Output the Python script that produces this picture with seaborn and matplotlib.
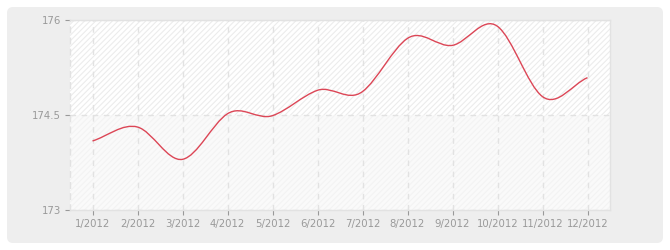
import numpy as np
import matplotlib
matplotlib.use("Agg")
import matplotlib.pyplot as plt
from matplotlib.path import Path
from matplotlib.patches import PathPatch, FancyBboxPatch
import seaborn as sns

# ---- data ----
months = ["1/2012", "2/2012", "3/2012", "4/2012", "5/2012", "6/2012",
          "7/2012", "8/2012", "9/2012", "10/2012", "11/2012", "12/2012"]
values = [174.09, 174.31, 173.80, 174.52, 174.49, 174.89,
          174.87, 175.71, 175.60, 175.90, 174.79, 175.09]
y_ticks = [173, 174.5, 176]
y_tick_labels = ["173", "174.5", "176"]

sns.set_theme(style="white")
plt.rcParams["font.family"] = ["DejaVu Sans"]
plt.rcParams["hatch.linewidth"] = 0.8

fig = plt.figure(figsize=(6.7, 2.5), dpi=100, facecolor="white")

# outer rounded panel
W, H = 670.0, 250.0
panel = FancyBboxPatch((7 / W, 7 / H), (663 - 7) / W, (243 - 7) / H,
                       boxstyle="round,pad=0,rounding_size=0.009",
                       transform=fig.transFigure, facecolor="#eeeeee",
                       edgecolor="none", zorder=-5, mutation_aspect=W / H)
fig.patches.append(panel)

ax = fig.add_axes([70 / W, 40 / H, 540 / W, 190 / H])
ax.set_zorder(1)
ax.set_facecolor("white")

x = np.arange(len(months))
ax.set_xlim(-0.5, len(months) - 0.5)
ax.set_ylim(173, 176)

# hatched background bands
ax.axhspan(174.5, 176, facecolor="white", edgecolor="#ececec", hatch="//////",
           linewidth=0, zorder=0)
ax.axhspan(173, 174.5, facecolor="#fafafa", edgecolor="#f3f3f3", hatch="//////",
           linewidth=0, zorder=0)

# smooth curve through the data (cubic Hermite / Catmull-Rom as Bezier path)
xv = x.astype(float)
yv = np.asarray(values, dtype=float)
n = len(yv)
k = 1.3
m = np.empty(n)
m[1:-1] = k * (yv[2:] - yv[:-2]) / 2.0
m[0] = yv[1] - yv[0]
m[-1] = yv[-1] - yv[-2]
verts = [(xv[0], yv[0])]
codes = [Path.MOVETO]
for i in range(n - 1):
    verts += [(xv[i] + 1 / 3, yv[i] + m[i] / 3),
              (xv[i + 1] - 1 / 3, yv[i + 1] - m[i + 1] / 3),
              (xv[i + 1], yv[i + 1])]
    codes += [Path.CURVE4] * 3
ax.add_patch(PathPatch(Path(verts, codes), facecolor="none",
                       edgecolor="#dc4656", linewidth=1.0, zorder=3))

# grid
ax.set_xticks(x)
ax.set_xticklabels(months)
ax.set_yticks(y_ticks)
ax.set_yticklabels(y_tick_labels)
ax.grid(True, color="#e2e2e2", linestyle=(0, (4, 4)), linewidth=1.0, zorder=1)
ax.set_axisbelow(True)

for side in ["top", "right", "bottom"]:
    ax.spines[side].set_color("#e2e2e2")
    ax.spines[side].set_linewidth(1.0)
ax.spines["left"].set_color("#e2e2e2")
ax.spines["left"].set_linestyle((0, (4, 4)))
ax.spines["left"].set_linewidth(1.0)

ax.tick_params(axis="both", which="major", direction="out", length=3.5,
               width=0.8, color="#999999", labelcolor="#999999",
               labelsize=7.3, pad=3)
ax.tick_params(left=True, bottom=True)

fig.savefig("out.png", dpi=100, facecolor="white")
